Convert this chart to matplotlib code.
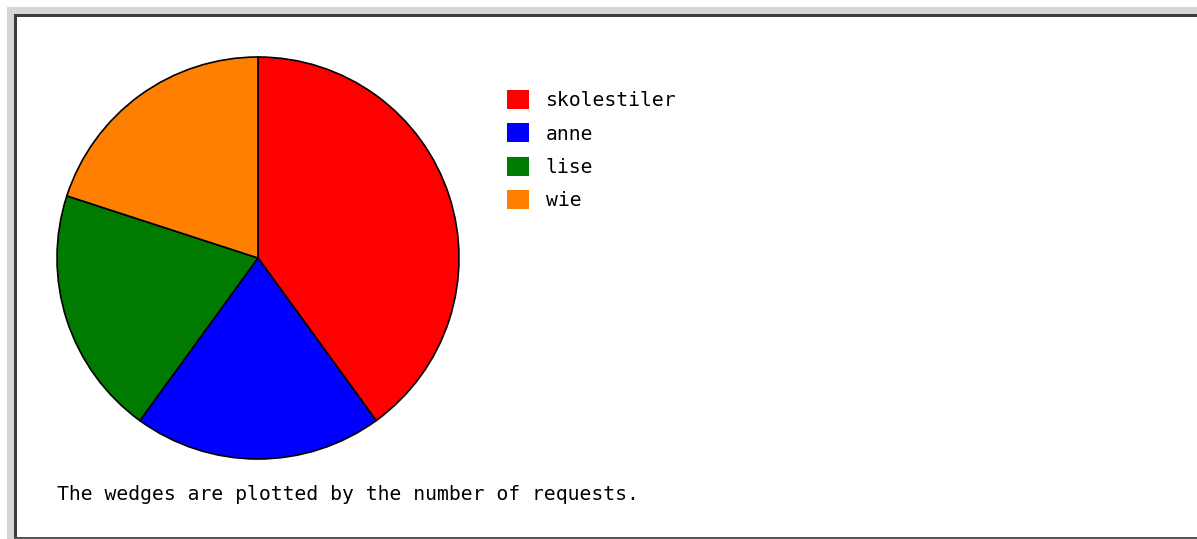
import matplotlib.pyplot as plt
from matplotlib.patches import Patch, Rectangle

# request counts per user
users = ['skolestiler', 'anne', 'lise', 'wie']
requests = [2, 1, 1, 1]
colors = ['#ff0000', '#0000ff', '#007b00', '#ff8000']
caption = 'The wedges are plotted by the number of requests.'

W, H = 1197, 539
fig = plt.figure(figsize=(W / 100, H / 100), dpi=100)
fig.patch.set_facecolor('white')

# window frame (grey bevel + dark edge)
def px_rect(x, y, w, h, c):
    fig.patches.append(Rectangle((x / W, 1 - (y + h) / H), w / W, h / H,
                                 transform=fig.transFigure, color=c, lw=0))

px_rect(7, 7, W - 7, 8, '#d6d6d6')
px_rect(7, 7, 8, H - 7, '#d6d6d6')
px_rect(14, 14, W - 14, 2.5, '#3c3c3c')
px_rect(14, 14, 2.5, H - 14, '#3c3c3c')
px_rect(14, H - 2.5, W - 14, 2.5, '#555555')

# pie, centre (258, 258) radius 201 px
cx, cy, r = 258, 258, 201
ax = fig.add_axes([(cx - r) / W, 1 - (cy + r) / H, 2 * r / W, 2 * r / H])
ax.pie(requests, colors=colors, startangle=90, counterclock=False,
       wedgeprops=dict(edgecolor='black', linewidth=1.2))
ax.set_xlim(-1, 1)
ax.set_ylim(-1, 1)
ax.set_aspect('equal')
ax.axis('off')
for p in ax.patches:
    p.set_clip_on(False)

mono = 'DejaVu Sans Mono'
handles = [Patch(facecolor=c, edgecolor='none') for c in colors]
fig.legend(handles, users, loc='upper left',
           bbox_to_anchor=(507 / W, 1 - 90 / H), frameon=False,
           prop=dict(family=mono, size=14.2), borderpad=0, borderaxespad=0,
           handlelength=1.12, handleheight=1.12, handletextpad=0.85,
           labelspacing=0.66)

fig.text(57 / W, 1 - 495 / H, caption, family=mono, size=14.2,
         va='center', ha='left')

fig.savefig('out.png', dpi=100)
